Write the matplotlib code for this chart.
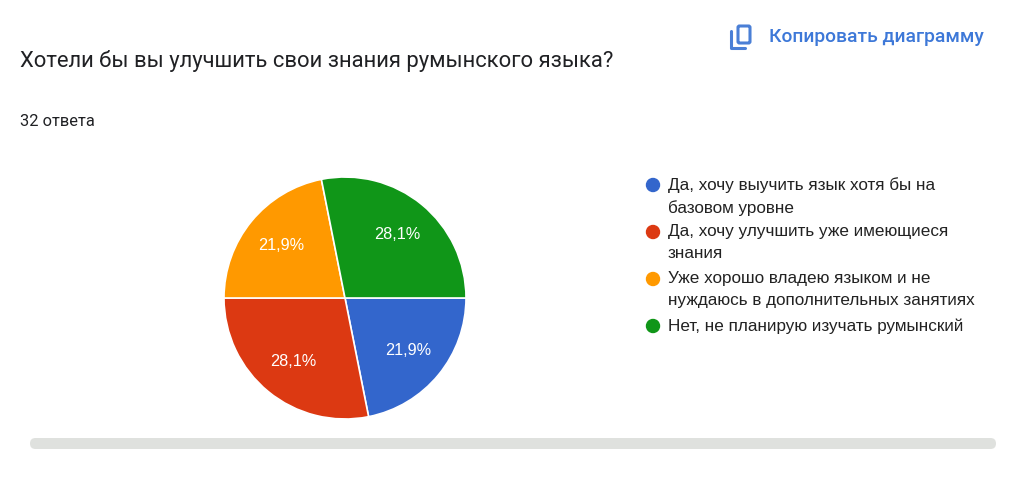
import matplotlib
matplotlib.use("Agg")
import matplotlib.pyplot as plt
from matplotlib.patches import FancyBboxPatch, Circle
import numpy as np

title = "Хотели бы вы улучшить свои знания румынского языка?"
subtitle = "32 ответа"
categories = [
    "Да, хочу выучить язык хотя бы на\nбазовом уровне",
    "Да, хочу улучшить уже имеющиеся\nзнания",
    "Уже хорошо владею языком и не\nнуждаюсь в дополнительных занятиях",
    "Нет, не планирую изучать румынский",
]
counts = [7, 9, 7, 9]
pct_labels = ["21,9%", "28,1%", "21,9%", "28,1%"]
colors = ["#3366cc", "#dc3912", "#ff9900", "#109618"]

plt.rcParams['font.family'] = ['Roboto', 'DejaVu Sans']
ARIAL = ['Liberation Sans', 'DejaVu Sans']

W, H = 1024, 483
fig = plt.figure(figsize=(W / 100, H / 100), dpi=100)
fig.patch.set_facecolor("white")

bg = fig.add_axes([0, 0, 1, 1])
bg.set_xlim(0, W)
bg.set_ylim(H, 0)
bg.axis("off")

bg.text(20, 61, title, fontsize=15.8, color="#202124", va="center", ha="left")
bg.text(20, 121, subtitle, fontsize=11.8, color="#202124", va="center", ha="left")

# copy icon
bg.add_patch(FancyBboxPatch((738, 26), 12, 17, boxstyle="round,pad=0,rounding_size=1.5",
                            fill=False, ec="#4a7fd6", lw=2.2))
bg.plot([731, 731, 745], [31, 48, 48], color="#4a7fd6", lw=2.2, solid_capstyle="round")
bg.text(769, 37, "Копировать диаграмму", fontsize=13.9, color="#3d78d8",
        fontweight="medium", va="center", ha="left")

# legend
leg_y = [185, 232, 279, 326]
for y, lab, c in zip(leg_y, categories, colors):
    bg.add_patch(Circle((653, y), 6.5, color=c))
    bg.text(668, y - 8, lab, fontsize=12.3, color="#222222", va="top", ha="left",
            linespacing=1.55, family=ARIAL)

# scrollbar
bg.add_patch(FancyBboxPatch((30, 438), 966, 11, boxstyle="round,pad=0,rounding_size=5.5",
                            fc="#dfe1de", ec="none"))

# pie
ax = fig.add_axes([224 / W, 64 / H, 242 / W, 242 / H])
wedges, texts = ax.pie(counts, colors=colors, startangle=0, counterclock=False,
                       wedgeprops=dict(edgecolor="white", linewidth=1.2))
for w, lab in zip(wedges, pct_labels):
    ang = np.deg2rad((w.theta1 + w.theta2) / 2)
    ax.text(0.68 * np.cos(ang), 0.68 * np.sin(ang), lab, ha="center", va="center",
            color="white", fontsize=11.7, family=ARIAL)
ax.set_xlim(-1, 1)
ax.set_ylim(-1, 1)
ax.set_aspect("auto")
ax.axis("off")

fig.savefig("out.png", dpi=100, facecolor="white")
